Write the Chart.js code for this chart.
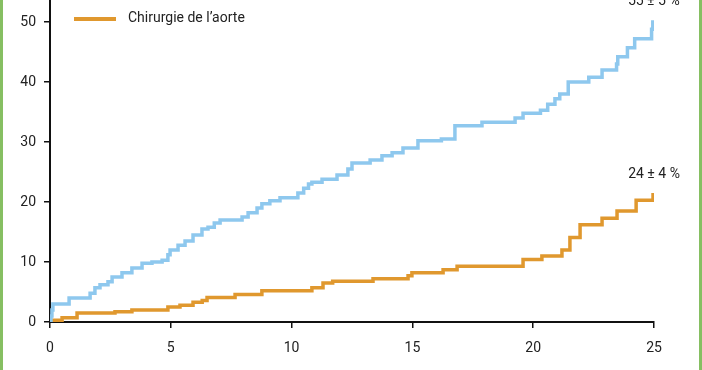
<!DOCTYPE html>
<html>
<head>
<meta charset="utf-8">
<script src="https://cdn.jsdelivr.net/npm/chart.js@4/dist/chart.umd.min.js"></script>
<style>
  html, body { margin: 0; padding: 0; background: #fff; }
  canvas { display: block; }
</style>
</head>
<body>
<canvas id="incidenceChart" width="702" height="370"></canvas>
<script>
// courbe bleue (groupe dont la légende est coupée en haut)
const autreTemps = [0, 0.04, 0.08, 0.12, 0.79, 1.66, 1.86, 2.07, 2.4, 2.57, 2.98, 3.39, 3.81, 4.22, 4.64, 4.88, 4.97,
    5.3, 5.59, 5.92, 6.29, 6.54, 6.8, 7.04, 7.95, 8.2, 8.57, 8.77, 9.1, 9.52, 10.26, 10.5, 10.7, 10.84, 11.26, 11.88,
    12.33, 12.5, 13.25, 13.74, 14.16, 14.61, 15.23, 16.2, 16.76, 17.88, 19.25, 19.58, 20.3, 20.6, 20.9, 21.1, 21.45,
    22.3, 22.85, 23.45, 23.5, 23.9, 24.2, 24.9, 24.95];
const autreValeurs = [0, 1.0, 2.0, 3.0, 4.0, 4.8, 5.7, 6.2, 6.7, 7.5, 8.2, 9.0, 9.8, 10.0, 10.3, 11.2, 12.0,
    12.8, 13.5, 14.5, 15.5, 15.8, 16.5, 17.0, 17.5, 18.2, 19.0, 19.7, 20.2, 20.7, 21.5, 22.3, 23.0, 23.3, 23.8, 24.5,
    25.5, 26.5, 27.0, 27.7, 28.2, 29.0, 30.2, 30.5, 32.7, 33.3, 34.0, 34.8, 35.3, 36.3, 37.2, 38.0, 40.0,
    40.8, 42.0, 43.0, 44.2, 45.7, 47.2, 48.8, 50.3];

// courbe orange : chirurgie de l'aorte
const aorteTemps = [0, 0.15, 0.5, 1.12, 2.69, 3.39, 4.88, 5.38, 5.92, 6.3, 6.5, 7.66, 8.77, 10.84, 11.3, 11.7,
    13.37, 14.82, 14.98, 16.27, 16.85, 19.58, 20.36, 21.19, 21.52, 21.94, 22.85, 23.47, 24.26, 24.96];
const aorteValeurs = [0, 0.3, 0.7, 1.5, 1.7, 2.0, 2.5, 2.8, 3.3, 3.6, 4.1, 4.6, 5.2, 5.7, 6.5, 6.8,
    7.2, 7.7, 8.2, 8.7, 9.3, 10.4, 11.0, 12.0, 14.1, 16.2, 17.3, 18.5, 20.3, 21.5];

const libelles = ['Autre chirurgie', 'Chirurgie de l\u2019aorte'];
const etiquettesFin = ['55 \u00b1 5 %', '24 \u00b1 4 %'];
const ticksX = [0, 5, 10, 15, 20, 25];
const ticksY = [0, 10, 20, 30, 40, 50];

const BLEU = '#8ec8ee';
const ORANGE = '#e0982e';
const POLICE = 'Roboto, "DejaVu Sans", sans-serif';

function enPoints(temps, valeurs) {
    return temps.map((t, i) => ({ x: t, y: valeurs[i] }));
}

const habillage = {
    id: 'habillage',
    afterDraw(chart) {
        const ctx = chart.ctx;
        ctx.save();

        // bordures vertes à gauche et à droite
        ctx.fillStyle = '#86bf62';
        ctx.fillRect(0, 0, 3, chart.height);
        ctx.fillRect(chart.width - 3, 0, 3, chart.height);

        // légende (seule l'entrée orange est visible)
        ctx.strokeStyle = ORANGE;
        ctx.lineWidth = 4;
        ctx.beginPath();
        ctx.moveTo(74, 19);
        ctx.lineTo(116, 19);
        ctx.stroke();
        ctx.fillStyle = '#222';
        ctx.font = '14px ' + POLICE;
        ctx.textAlign = 'left';
        ctx.textBaseline = 'middle';
        ctx.fillText(libelles[1], 128, 18);

        // étiquettes en bout de courbe
        ctx.textAlign = 'center';
        chart.data.datasets.forEach((ds, i) => {
            const meta = chart.getDatasetMeta(i);
            const dernier = meta.data[meta.data.length - 1];
            ctx.fillText(etiquettesFin[i], dernier.x + 1, dernier.y - 19);
        });
        ctx.restore();
    }
};

new Chart(document.getElementById('incidenceChart'), {
    type: 'line',
    data: {
        datasets: [
            {
                label: libelles[0],
                data: enPoints(autreTemps, autreValeurs),
                borderColor: BLEU,
                borderWidth: 3.5,
                stepped: true,
                pointRadius: 0,
                fill: false
            },
            {
                label: libelles[1],
                data: enPoints(aorteTemps, aorteValeurs),
                borderColor: ORANGE,
                borderWidth: 3.5,
                stepped: true,
                pointRadius: 0,
                fill: false
            }
        ]
    },
    options: {
        responsive: false,
        animation: false,
        layout: { padding: { left: 0, right: 48, top: 0, bottom: 0 } },
        plugins: {
            legend: { display: false },
            tooltip: { enabled: false }
        },
        scales: {
            x: {
                type: 'linear',
                min: 0,
                max: 25,
                afterBuildTicks: scale => { scale.ticks = ticksX.map(v => ({ value: v })); },
                afterFit: scale => { scale.height = 48; },
                grid: { drawOnChartArea: false, drawTicks: true, tickLength: 6, color: '#111', lineWidth: 1.5 },
                border: { display: true, color: '#111', width: 2 },
                ticks: { color: '#222', font: { family: POLICE, size: 14 }, padding: 12, maxRotation: 0 }
            },
            y: {
                type: 'linear',
                min: 0,
                max: 53.67,
                afterBuildTicks: scale => { scale.ticks = ticksY.map(v => ({ value: v })); },
                afterFit: scale => {
                    scale.width = 50;
                    scale.paddingTop = 0;
                    scale.paddingBottom = 0;
                },
                grid: { drawOnChartArea: false, drawTicks: true, tickLength: 6, color: '#111', lineWidth: 1.5 },
                border: { display: true, color: '#111', width: 2 },
                ticks: { color: '#222', font: { family: POLICE, size: 14 }, padding: 8 }
            }
        }
    },
    plugins: [habillage]
});
</script>
</body>
</html>
